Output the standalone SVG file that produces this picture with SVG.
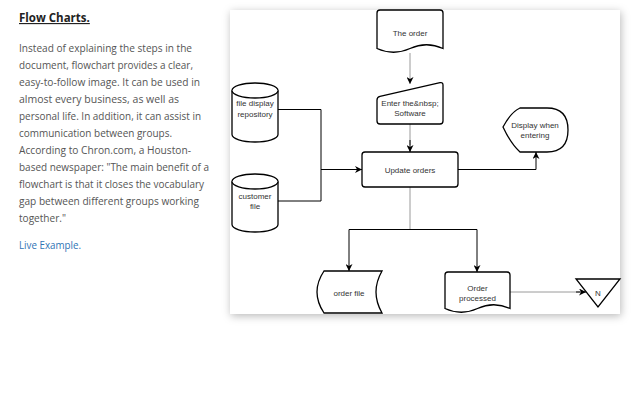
<svg xmlns="http://www.w3.org/2000/svg" width="640" height="400" viewBox="0 0 640 400">
<defs>
<style>
.para{font-family:"Open Sans","Noto Sans","Liberation Sans",sans-serif;font-size:11px;fill:#555}
.title{font-family:"Open Sans","Noto Sans","Liberation Sans",sans-serif;font-size:11.5px;font-weight:bold;fill:#222;text-decoration:underline}
.link{font-family:"Open Sans","Noto Sans","Liberation Sans",sans-serif;font-size:11px;fill:#2f74b5}
.shape{fill:#fff;stroke:#000;stroke-width:1.3}
.lbl{font-family:"Liberation Sans",Arial,sans-serif;font-size:8px;fill:#333;text-anchor:middle}
.con{fill:none;stroke:#000;stroke-width:1}
.gcon{fill:none;stroke:#9a9a9a;stroke-width:1}
</style>
<marker id="arr" viewBox="0 0 10 10" refX="10" refY="5" markerWidth="7" markerHeight="7" markerUnits="userSpaceOnUse" orient="auto">
<path d="M0,0 L10,5 L0,10 L3,5 Z" fill="#000"/>
</marker>
<filter id="sh" x="-10%" y="-10%" width="120%" height="125%">
<feDropShadow dx="1" dy="2" stdDeviation="4" flood-color="#000" flood-opacity="0.28"/>
</filter>
</defs>
<rect width="640" height="400" fill="#fff"/>

<g id="text-panel">
<text class="title" x="19" y="22">Flow Charts.</text>
<text class="para" x="19" y="52" textLength="173" lengthAdjust="spacingAndGlyphs">Instead of explaining the steps in the</text>
<text class="para" x="19" y="69" textLength="174" lengthAdjust="spacingAndGlyphs">document, flowchart provides a clear,</text>
<text class="para" x="19" y="86" textLength="181" lengthAdjust="spacingAndGlyphs">easy-to-follow image. It can be used in</text>
<text class="para" x="19" y="103" textLength="160" lengthAdjust="spacingAndGlyphs">almost every business, as well as</text>
<text class="para" x="19" y="120" textLength="182" lengthAdjust="spacingAndGlyphs">personal life. In addition, it can assist in</text>
<text class="para" x="19" y="137" textLength="153" lengthAdjust="spacingAndGlyphs">communication between groups.</text>
<text class="para" x="19" y="154" textLength="172" lengthAdjust="spacingAndGlyphs">According to Chron.com, a Houston-</text>
<text class="para" x="19" y="171" textLength="190" lengthAdjust="spacingAndGlyphs">based newspaper: "The main benefit of a</text>
<text class="para" x="19" y="188" textLength="185" lengthAdjust="spacingAndGlyphs">flowchart is that it closes the vocabulary</text>
<text class="para" x="19" y="205" textLength="180" lengthAdjust="spacingAndGlyphs">gap between different groups working</text>
<text class="para" x="19" y="222" textLength="47" lengthAdjust="spacingAndGlyphs">together."</text>
<text class="link" x="19" y="249" textLength="62" lengthAdjust="spacingAndGlyphs">Live Example.</text>
</g>

<rect id="card" x="230" y="10" width="390" height="304" fill="#fff" filter="url(#sh)"/>

<g id="connectors">
<path class="gcon" d="M410,53 V84" marker-end="url(#arr)"/>
<path class="gcon" d="M410,124 V145"/>
<path class="con" d="M410,140 V152" marker-end="url(#arr)"/>
<path class="con" d="M278,109.5 H321 V201 H278"/>
<path class="con" d="M321,169.5 H362" marker-end="url(#arr)"/>
<path class="con" d="M458,169.5 H536 V152" marker-end="url(#arr)"/>
<path class="gcon" d="M410,187 V229.5"/>
<path class="con" d="M349,229.5 H477"/>
<path class="con" d="M349,229.5 V271" marker-end="url(#arr)"/>
<path class="con" d="M477,229.5 V272" marker-end="url(#arr)"/>
<path class="gcon" d="M510,292 H580"/>
<path class="con" d="M576,292 H586" marker-end="url(#arr)"/>
</g>

<g id="node-the-order">
<path class="shape" d="M377,13 Q377,10 380,10 H440 Q443,10 443,13 V48.5 Q426.5,41 410,48.5 Q393.5,56 377,48.5 Z"/>
<text class="lbl" x="410" y="36">The order</text>
</g>

<g id="node-enter-software">
<path class="shape" d="M377,100 Q377,97 380,96.3 L440,82.7 Q443,82 443,85 V121 Q443,124 440,124 H380 Q377,124 377,121 Z"/>
<text class="lbl" x="410" y="106">Enter the&amp;nbsp;</text>
<text class="lbl" x="410" y="116">Software</text>
</g>

<g id="node-update-orders">
<rect class="shape" x="362" y="152" width="96" height="35" rx="3"/>
<text class="lbl" x="410" y="173">Update orders</text>
</g>

<g id="node-file-display-repository">
<path class="shape" d="M232,90.5 A23,7.5 0 0 1 278,90.5 V134.5 A23,7.5 0 0 1 232,134.5 Z"/>
<path class="shape" fill="none" d="M232,90.5 A23,7.5 0 0 0 278,90.5"/>
<text class="lbl" x="255" y="106">file display</text>
<text class="lbl" x="255" y="117">repository</text>
</g>

<g id="node-customer-file">
<path class="shape" d="M232,181.5 A23,7.5 0 0 1 278,181.5 V224.5 A23,7.5 0 0 1 232,224.5 Z"/>
<path class="shape" fill="none" d="M232,181.5 A23,7.5 0 0 0 278,181.5"/>
<text class="lbl" x="255" y="199">customer</text>
<text class="lbl" x="255" y="209">file</text>
</g>

<g id="node-display-when-entering">
<path class="shape" d="M503,127 Q511,112 520,108 H547 Q568,108 568,130 Q568,152 547,152 H520 Q511,144 503,127 Z"/>
<text class="lbl" x="535" y="128">Display when</text>
<text class="lbl" x="535" y="138">entering</text>
</g>

<g id="node-order-file">
<path class="shape" d="M324,271 H382 Q370,292 382,313 H324 Q310,292 324,271 Z"/>
<text class="lbl" x="349" y="296">order file</text>
</g>

<g id="node-order-processed">
<path class="shape" d="M445,275 Q445,272 448,272 H507 Q510,272 510,275 V308.5 Q493.75,301 477.5,308.5 Q461.25,316 445,308.5 Z"/>
<text class="lbl" x="477.5" y="291">Order</text>
<text class="lbl" x="477.5" y="301">processed</text>
</g>

<g id="node-n">
<path class="shape" d="M576,279 H620 L598,307 Z"/>
<text class="lbl" x="598" y="296">N</text>
</g>
</svg>
